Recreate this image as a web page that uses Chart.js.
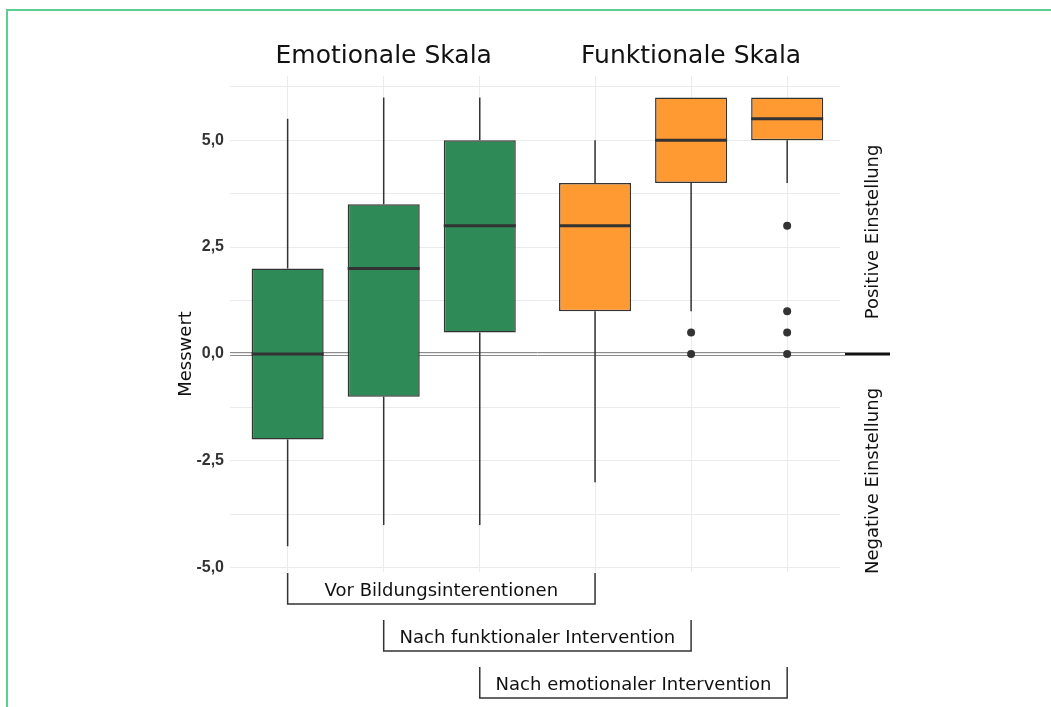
<!DOCTYPE html>
<html>
<head>
<meta charset="utf-8">
<script src="https://cdn.jsdelivr.net/npm/chart.js@4.4.1/dist/chart.umd.min.js"></script>
<style>
  html, body { margin: 0; padding: 0; background: #fff; }
  #wrap { position: relative; width: 1051px; height: 707px; }
  #frame { position: absolute; left: 6px; top: 9px; right: 0; bottom: 0;
           border-top: 2px solid #5ccf8e; border-left: 2px solid #5ccf8e; pointer-events: none; }
  canvas { display: block; }
</style>
</head>
<body>
<div id="wrap">
  <canvas id="chart" width="1051" height="707"></canvas>
  <div id="frame"></div>
</div>
<script>
// Boxplot statistics, one entry per box (3 emotional, then 3 functional)
const categories = [
  'Emotional / Vor', 'Emotional / Nach funktionaler', 'Emotional / Nach emotionaler',
  'Funktional / Vor', 'Funktional / Nach funktionaler', 'Funktional / Nach emotionaler'
];
const whiskerLow  = [-4.5, -4, -4, -3, 1, 4];
const q1          = [-2, -1, 0.5, 1, 4, 5];
const median      = [0, 2, 3, 3, 5, 5.5];
const q3          = [2, 3.5, 5, 4, 6, 6];
const whiskerHigh = [5.5, 6, 6, 5, 6, 6];
const outliers    = [[], [], [], [], [0.5, 0], [3, 1, 0.5, 0]];

const yTickValues = [-5, -3.75, -2.5, -1.25, 0, 1.25, 2.5, 3.75, 5, 6.25];
const scaleTitles = ['Emotionale Skala', 'Funktionale Skala'];
const phaseLabels = ['Vor Bildungsinterentionen', 'Nach funktionaler Intervention', 'Nach emotionaler Intervention'];
const sideLabels  = ['Positive Einstellung', 'Negative Einstellung'];

const green = '#2e8b57';
const orange = '#ff9a33';
const ink = '#333333';
const geoFont = '"DejaVu Sans", sans-serif';

// x position of each box: second scale is shifted by a small gap
const GROUP_GAP = 0.2;
const xPos = categories.map((c, i) => i + 1 + (i >= 3 ? GROUP_GAP : 0));

const boxData = categories.map((c, i) => ({ x: xPos[i], y: [q1[i], q3[i]] }));
const outlierData = [];
outliers.forEach((list, i) => list.forEach(v => outlierData.push({ x: xPos[i], y: v })));

const boxExtras = {
  id: 'boxExtras',
  beforeDatasetsDraw(chart) {
    const { ctx, chartArea: a, scales: { x, y } } = chart;
    const y0 = Math.round(y.getPixelForValue(0));
    ctx.save();
    // zero line (double grey) + black marker on the right
    ctx.strokeStyle = '#8c8c8c';
    ctx.lineWidth = 1;
    ctx.beginPath();
    ctx.moveTo(a.left, y0 - 1.5); ctx.lineTo(a.right + 5, y0 - 1.5);
    ctx.moveTo(a.left, y0 + 1.5); ctx.lineTo(a.right + 5, y0 + 1.5);
    ctx.stroke();
    ctx.strokeStyle = '#111';
    ctx.lineWidth = 3;
    ctx.beginPath();
    ctx.moveTo(a.right + 5, y0); ctx.lineTo(a.right + 50, y0);
    ctx.stroke();
    // whiskers
    ctx.strokeStyle = ink;
    ctx.lineWidth = 1.5;
    xPos.forEach((p, i) => {
      const px = x.getPixelForValue(p);
      ctx.beginPath();
      ctx.moveTo(px, y.getPixelForValue(whiskerLow[i]));
      ctx.lineTo(px, y.getPixelForValue(q1[i]));
      ctx.moveTo(px, y.getPixelForValue(q3[i]));
      ctx.lineTo(px, y.getPixelForValue(whiskerHigh[i]));
      ctx.stroke();
    });
    ctx.restore();
  },
  afterDatasetsDraw(chart) {
    const { ctx, chartArea: a, scales: { x, y } } = chart;
    const meta = chart.getDatasetMeta(1);
    ctx.save();
    // medians
    ctx.strokeStyle = ink;
    ctx.lineWidth = 3;
    meta.data.forEach((bar, i) => {
      const my = y.getPixelForValue(median[i]);
      ctx.beginPath();
      ctx.moveTo(bar.x - bar.width / 2, my);
      ctx.lineTo(bar.x + bar.width / 2, my);
      ctx.stroke();
    });

    // scale titles above the boxes
    ctx.fillStyle = '#111';
    ctx.textAlign = 'center';
    ctx.textBaseline = 'middle';
    ctx.font = '25px ' + geoFont;
    ctx.fillText(scaleTitles[0], x.getPixelForValue(xPos[1]), a.top - 20);
    ctx.fillText(scaleTitles[1], x.getPixelForValue(xPos[4]), a.top - 20);

    // y axis title
    ctx.font = '18px ' + geoFont;
    const y0 = y.getPixelForValue(0);
    ctx.save();
    ctx.translate(186, y0);
    ctx.rotate(-Math.PI / 2);
    ctx.fillText('Messwert', 0, 0);
    ctx.restore();

    // right side labels
    ctx.save();
    ctx.translate(a.right + 33, y0 - 122);
    ctx.rotate(-Math.PI / 2);
    ctx.fillText(sideLabels[0], 0, 0);
    ctx.restore();
    ctx.save();
    ctx.translate(a.right + 33, y0 + 127);
    ctx.rotate(-Math.PI / 2);
    ctx.fillText(sideLabels[1], 0, 0);
    ctx.restore();

    // phase brackets below the plot: box i with box i+3
    ctx.strokeStyle = ink;
    ctx.lineWidth = 1.5;
    ctx.font = '18px ' + geoFont;
    phaseLabels.forEach((label, k) => {
      const xl = x.getPixelForValue(xPos[k]);
      const xr = x.getPixelForValue(xPos[k + 3]);
      const top = a.bottom + 1 + k * 47;
      const bottom = top + 31;
      ctx.beginPath();
      ctx.moveTo(xl, top); ctx.lineTo(xl, bottom); ctx.lineTo(xr, bottom); ctx.lineTo(xr, top);
      ctx.stroke();
      ctx.fillText(label, (xl + xr) / 2, top + 18);
    });
    ctx.restore();
  }
};

new Chart(document.getElementById('chart'), {
  type: 'bar',
  data: {
    datasets: [
      {
        type: 'scatter',
        label: 'Ausreißer',
        data: outlierData,
        pointRadius: 4,
        pointBackgroundColor: ink,
        pointBorderColor: ink,
        pointBorderWidth: 0
      },
      {
        label: 'Box',
        data: boxData,
        backgroundColor: categories.map((c, i) => i < 3 ? green : orange),
        borderColor: ink,
        borderWidth: 1.5,
        borderSkipped: false,
        barPercentage: 0.75,
        categoryPercentage: 1
      }
    ]
  },
  options: {
    responsive: false,
    animation: false,
    layout: { padding: { top: 76, right: 211, bottom: 135, left: 0 } },
    plugins: {
      legend: { display: false },
      tooltip: { enabled: false }
    },
    scales: {
      x: {
        type: 'linear',
        min: 0.4,
        max: 6.75,
        offset: false,
        afterBuildTicks: (scale) => { scale.ticks = xPos.map(v => ({ value: v })); },
        afterFit: (scale) => { scale.height = 0; },
        ticks: { display: false },
        grid: { color: '#ebebeb', drawTicks: false, offset: false },
        border: { display: false }
      },
      y: {
        min: -5.1,
        max: 6.5,
        afterBuildTicks: (scale) => { scale.ticks = yTickValues.map(v => ({ value: v })); },
        afterFit: (scale) => { scale.width = 230; },
        ticks: {
          padding: 6,
          color: ink,
          font: { family: '"Liberation Sans", Arial, sans-serif', size: 16, weight: 'bold' },
          callback: (v) => (Math.abs(v % 2.5) < 1e-9 ? v.toFixed(1).replace('.', ',') : '')
        },
        grid: { color: '#ebebeb', drawTicks: false },
        border: { display: false }
      }
    }
  },
  plugins: [boxExtras]
});
</script>
</body>
</html>
